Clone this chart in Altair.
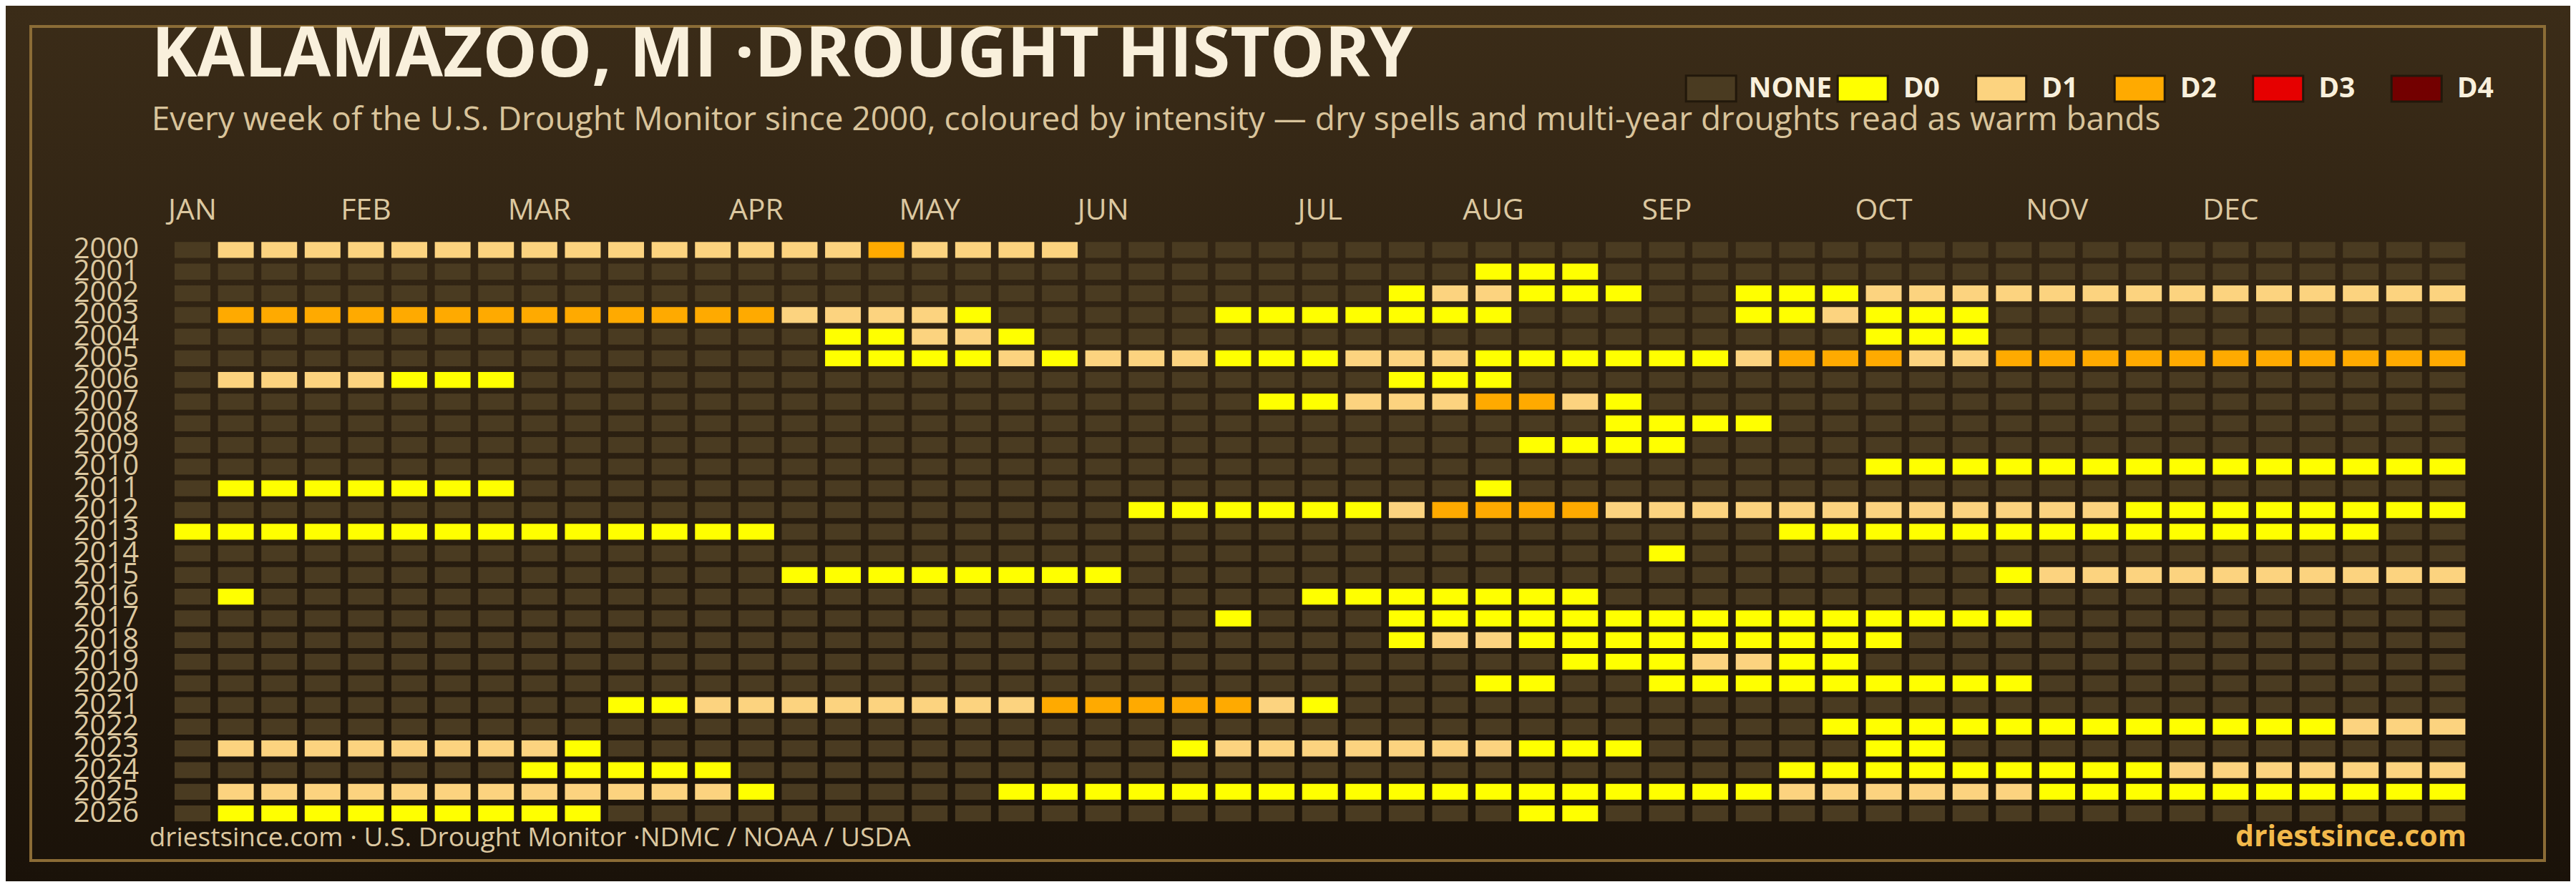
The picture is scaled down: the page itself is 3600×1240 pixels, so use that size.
import altair as alt
import pandas as pd

TITLE = "KALAMAZOO, MI ·DROUGHT HISTORY"
SUBTITLE = ("Every week of the U.S. Drought Monitor since 2000, coloured by intensity "
            "— dry spells and multi-year droughts read as warm bands")
FOOTER_LEFT = "driestsince.com  · U.S. Drought Monitor ·NDMC / NOAA / USDA"
FOOTER_RIGHT = "driestsince.com"

YEARS = [str(y) for y in range(2000, 2027)]
LEVELS = ["NONE", "D0", "D1", "D2", "D3", "D4"]
LEVEL_COLORS = ["#4a3b21", "#ffff00", "#fcd37f", "#ffaa00", "#e60000", "#730000"]
CODE_TO_LEVEL = {".": "NONE", "0": "D0", "1": "D1", "2": "D2", "3": "D3", "4": "D4"}

MONTH_NAMES = ["JAN", "FEB", "MAR", "APR", "MAY", "JUN",
               "JUL", "AUG", "SEP", "OCT", "NOV", "DEC"]
MONTH_WEEKS = [0, 4, 8, 13, 17, 21, 26, 30, 34, 39, 43, 47]

# weekly drought category per year, as runs of (category code, number of weeks)
RUNS_2000 = [(".", 1), ("1", 15), ("2", 1), ("1", 4), (".", 32)]
RUNS_2001 = [(".", 30), ("0", 3), (".", 20)]
RUNS_2002 = [(".", 28), ("0", 1), ("1", 2), ("0", 3), (".", 2), ("0", 3), ("1", 14)]
RUNS_2003 = [(".", 1), ("2", 13), ("1", 4), ("0", 1), (".", 5), ("0", 7), (".", 5),
             ("0", 2), ("1", 1), ("0", 3), (".", 11)]
RUNS_2004 = [(".", 15), ("0", 2), ("1", 2), ("0", 1), (".", 19), ("0", 3), (".", 11)]
RUNS_2005 = [(".", 15), ("0", 4), ("1", 1), ("0", 1), ("1", 3), ("0", 3), ("1", 3),
             ("0", 6), ("1", 1), ("2", 3), ("1", 2), ("2", 11)]
RUNS_2006 = [(".", 1), ("1", 4), ("0", 3), (".", 20), ("0", 3), (".", 22)]
RUNS_2007 = [(".", 25), ("0", 2), ("1", 3), ("2", 2), ("1", 1), ("0", 1), (".", 19)]
RUNS_2008 = [(".", 33), ("0", 4), (".", 16)]
RUNS_2009 = [(".", 31), ("0", 4), (".", 18)]
RUNS_2010 = [(".", 39), ("0", 14)]
RUNS_2011 = [(".", 1), ("0", 7), (".", 22), ("0", 1), (".", 22)]
RUNS_2012 = [(".", 22), ("0", 6), ("1", 1), ("2", 4), ("1", 12), ("0", 8)]
RUNS_2013 = [("0", 14), (".", 23), ("0", 14), (".", 2)]
RUNS_2014 = [(".", 34), ("0", 1), (".", 18)]
RUNS_2015 = [(".", 14), ("0", 8), (".", 20), ("0", 1), ("1", 10)]
RUNS_2016 = [(".", 1), ("0", 1), (".", 24), ("0", 7), (".", 20)]
RUNS_2017 = [(".", 24), ("0", 1), (".", 3), ("0", 15), (".", 10)]
RUNS_2018 = [(".", 28), ("0", 1), ("1", 2), ("0", 9), (".", 13)]
RUNS_2019 = [(".", 32), ("0", 3), ("1", 2), ("0", 2), (".", 14)]
RUNS_2020 = [(".", 30), ("0", 2), (".", 2), ("0", 9), (".", 10)]
RUNS_2021 = [(".", 10), ("0", 2), ("1", 8), ("2", 5), ("1", 1), ("0", 1), (".", 26)]
RUNS_2022 = [(".", 38), ("0", 12), ("1", 3)]
RUNS_2023 = [(".", 1), ("1", 8), ("0", 1), (".", 13), ("0", 1), ("1", 7), ("0", 3),
             (".", 5), ("0", 2), (".", 12)]
RUNS_2024 = [(".", 8), ("0", 5), (".", 24), ("0", 9), ("1", 7)]
RUNS_2025 = [(".", 1), ("1", 12), ("0", 1), (".", 5), ("0", 18), ("1", 6), ("0", 10)]
RUNS_2026 = [(".", 1), ("0", 9), (".", 21), ("0", 2), (".", 20)]

YEAR_RUNS = [RUNS_2000, RUNS_2001, RUNS_2002, RUNS_2003, RUNS_2004, RUNS_2005,
             RUNS_2006, RUNS_2007, RUNS_2008, RUNS_2009, RUNS_2010, RUNS_2011,
             RUNS_2012, RUNS_2013, RUNS_2014, RUNS_2015, RUNS_2016, RUNS_2017,
             RUNS_2018, RUNS_2019, RUNS_2020, RUNS_2021, RUNS_2022, RUNS_2023,
             RUNS_2024, RUNS_2025, RUNS_2026]

rows = []
for year, runs in zip(YEARS, YEAR_RUNS):
    week = 0
    for code, n in runs:
        for _ in range(n):
            rows.append({"year": year, "week": week, "level": CODE_TO_LEVEL[code]})
            week += 1
    assert week == 53, (year, week)
df = pd.DataFrame(rows)

# ---------------- layout ----------------
W, H = 3212, 818
PL, PT, PR, PB = 230.7, 326.3, 141.3, 79.7

FONT = "Open Sans"
CREAM = "#f9f0dc"
TAN = "#dcc8a0"

one = pd.DataFrame({"k": [0]})

background = alt.Chart(one).mark_rect(
    color=alt.LinearGradient(
        gradient="linear", x1=0, y1=0, x2=0, y2=1,
        stops=[alt.GradientStop(offset=0, color="#3b2c18"),
               alt.GradientStop(offset=1, color="#1a1209")],
    )
).encode(x=alt.value(-PL), x2=alt.value(W + PR), y=alt.value(-PT), y2=alt.value(H + PB))

border = alt.Chart(one).mark_rect(
    fillOpacity=0, stroke="#8b6c36", strokeWidth=4
).encode(x=alt.value(-195.7), x2=alt.value(3317.3), y=alt.value(-297.3), y2=alt.value(868.7))

month_label_expr = "[{}][indexof([{}], datum.value)]".format(
    ",".join("'%s'" % m for m in MONTH_NAMES), ",".join(str(w) for w in MONTH_WEEKS))

LEGEND_STYLE = dict(
    orient="none", legendY=-247, direction="horizontal", title=None,
    symbolType="M-1,-0.514H1V0.514H-1Z", symbolSize=4900,
    symbolStrokeColor="#22180b", symbolStrokeWidth=3, symbolOpacity=1,
    labelFont=FONT, labelFontSize=39, labelFontWeight="bold", labelColor=CREAM,
    padding=0, labelLimit=400, zindex=1,
)

x_enc = alt.X("week:O",
              scale=alt.Scale(paddingInner=0.175, paddingOuter=0.0875),
              axis=alt.Axis(orient="top", values=MONTH_WEEKS, labelExpr=month_label_expr,
                            title=None, ticks=False, tickSize=0, domain=False, grid=False,
                            labelAngle=0, labelAlign="center", labelBaseline="alphabetic",
                            labelPadding=28, labelFont=FONT, labelFontSize=41,
                            labelFontWeight=500, labelColor=TAN, labelOverlap=False,
                            zindex=1))
y_enc = alt.Y("year:O", sort=YEARS,
              scale=alt.Scale(paddingInner=0.264, paddingOuter=0.132),
              axis=alt.Axis(title=None, ticks=False, tickSize=0, domain=False, grid=False,
                            labelPadding=45, labelFont=FONT, labelFontSize=40,
                            labelFontWeight=500, labelColor=TAN, labelOverlap=False,
                            labelBaseline="middle", zindex=1))

cells = alt.Chart(df).mark_rect().encode(
    x=x_enc, y=y_enc,
    color=alt.Color("level:N",
                    scale=alt.Scale(domain=LEVELS, range=LEVEL_COLORS),
                    legend=alt.Legend(values=LEVELS[1:], legendX=2328, labelOffset=20,
                                      columnPadding=43.5, **LEGEND_STYLE)),
)

# separate legend entry for "no drought" (invisible overlay of the NONE weeks)
none_key = alt.Chart(df[df["level"] == "NONE"]).mark_rect(opacity=0).encode(
    x=x_enc, y=y_enc,
    fill=alt.Fill("level:N",
                  scale=alt.Scale(domain=LEVELS[:1], range=LEVEL_COLORS[:1]),
                  legend=alt.Legend(legendX=2116, labelOffset=16, **LEGEND_STYLE)),
)

footer_left = alt.Chart(pd.DataFrame({"t": [FOOTER_LEFT]})).mark_text(
    align="left", baseline="alphabetic", font=FONT, fontSize=37, color=TAN
).encode(text="t:N", x=alt.value(-30), y=alt.value(848.7))

footer_right = alt.Chart(pd.DataFrame({"t": [FOOTER_RIGHT]})).mark_text(
    align="right", baseline="alphabetic", font=FONT, fontSize=41, fontWeight="bold",
    color="#f2b94b"
).encode(text="t:N", x=alt.value(3208.3), y=alt.value(848.7))

chart = alt.layer(background, border, cells, none_key, footer_left, footer_right).properties(
    width=W, height=H,
    padding={"left": PL, "top": PT, "right": PR, "bottom": PB},
    autosize=alt.AutoSizeParams(type="none"),
    title=alt.TitleParams(
        text=TITLE, subtitle=SUBTITLE, anchor="start", frame="group", orient="top",
        font=FONT, fontSize=96, fontWeight="bold", color=CREAM,
        subtitleFont=FONT, subtitleFontSize=46, subtitleFontWeight=500,
        subtitleColor="#d9c49b", subtitlePadding=19, offset=-184, dx=-27, zindex=1),
).resolve_scale(color="independent", fill="independent").configure(
    background="#2a1f10"
).configure_view(stroke=None)

chart.save("out.html", embed_options={"renderer": "svg", "actions": False})
